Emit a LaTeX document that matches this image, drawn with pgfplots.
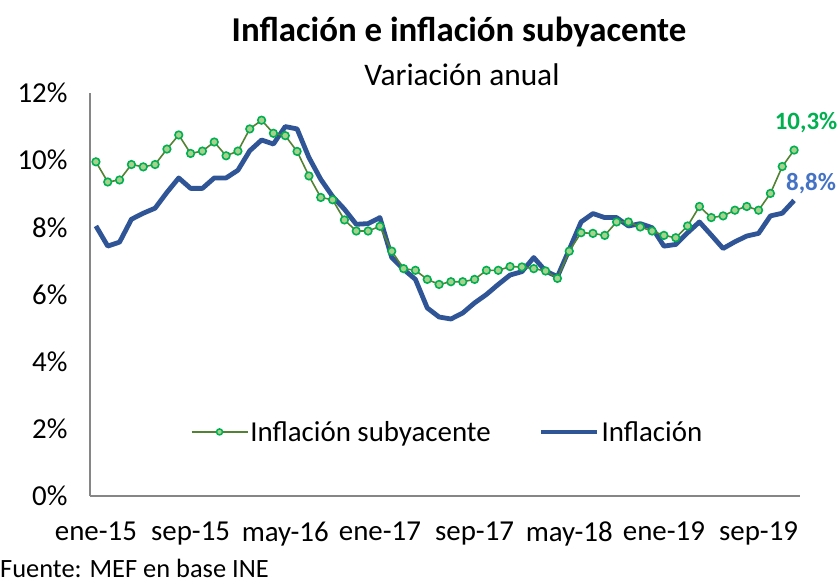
\documentclass[border=0pt]{standalone}
\usepackage{pgfplots}
\pgfplotsset{compat=1.18}
\usepackage{pgfplotstable}
\usepackage{fontspec}
\setmainfont{Carlito}
\definecolor{infblue}{RGB}{47,85,151}
\definecolor{subgreen}{RGB}{84,130,53}
\definecolor{mkgreen}{RGB}{0,176,80}
\definecolor{mkfill}{RGB}{169,209,142}
\definecolor{lblblue}{RGB}{68,114,196}
\definecolor{axgray}{RGB}{134,134,134}

\pgfplotstableread{
x y
0 9.95
1 9.35
2 9.41
3 9.87
4 9.80
5 9.87
6 10.33
7 10.75
8 10.20
9 10.27
10 10.54
11 10.13
12 10.27
13 10.93
14 11.19
15 10.80
16 10.73
17 10.26
18 9.53
19 8.89
20 8.82
21 8.22
22 7.89
23 7.89
24 8.03
25 7.29
26 6.77
27 6.72
28 6.45
29 6.30
30 6.38
31 6.38
32 6.45
33 6.72
34 6.72
35 6.83
36 6.82
37 6.77
38 6.70
39 6.48
40 7.29
41 7.84
42 7.82
43 7.76
44 8.16
45 8.16
46 8.01
47 7.89
48 7.76
49 7.69
50 8.04
51 8.62
52 8.29
53 8.34
54 8.51
55 8.62
56 8.51
57 9.01
58 9.81
59 10.30
}\subyacente

\pgfplotstableread{
x y
0 8.04
1 7.44
2 7.56
3 8.24
4 8.42
5 8.57
6 9.04
7 9.47
8 9.16
9 9.16
10 9.47
11 9.47
12 9.70
13 10.28
14 10.60
15 10.48
16 11.00
17 10.93
18 10.08
19 9.43
20 8.92
21 8.54
22 8.09
23 8.11
24 8.29
25 7.10
26 6.75
27 6.45
28 5.60
29 5.33
30 5.27
31 5.45
32 5.75
33 6.00
34 6.30
35 6.58
36 6.68
37 7.10
38 6.70
39 6.53
40 7.34
41 8.16
42 8.41
43 8.29
44 8.29
45 8.04
46 8.11
47 7.99
48 7.44
49 7.49
50 7.84
51 8.16
52 7.77
53 7.37
54 7.57
55 7.74
56 7.82
57 8.34
58 8.42
59 8.80
}\inflacion

\begin{document}
\begin{tikzpicture}[x=1bp,y=1bp]
\path[use as bounding box] (0,0) rectangle (838,585);
\begin{axis}[
  at={(90bp,89bp)}, anchor=south west,
  scale only axis, width=710bp, height=403bp,
  xmin=-0.5, xmax=59.5, ymin=0, ymax=12,
  axis x line*=bottom, axis y line*=left,
  axis line style={axgray, line width=1.3bp},
  major tick length=0pt,
  xtick={0,8,16,24,32,40,48,56},
  xticklabels={ene-15,sep-15,may-16,ene-17,sep-17,may-18,ene-19,sep-19},
  ytick={0,2,4,6,8,10,12},
  yticklabels={0\%,2\%,4\%,6\%,8\%,10\%,12\%},
  tick label style={font=\fontsize{29}{33}\selectfont, text=black},
  xticklabel style={yshift=-22bp},
  yticklabel style={xshift=-19bp},
  clip=false,
  legend style={at={(0.5035,0.159)}, anchor=center, draw=none, fill=none,
    font=\fontsize{29}{33}\selectfont, legend columns=2,
    /tikz/every even column/.append style={column sep=46bp}},
  legend image code/.code={\draw[mark repeat=2,mark phase=2,#1] plot coordinates {(0bp,0bp) (28bp,0bp) (56bp,0bp)};},
]
\addlegendimage{subgreen, line width=1.6bp, mark=*, mark size=3bp, mark options={draw=mkgreen, fill=mkfill, line width=1.5bp}}
\addlegendentry{Inflación subyacente}
\addlegendimage{infblue, line width=4.8bp}
\addlegendentry{Inflación}
\addplot[forget plot, infblue, line width=4.8bp, line join=round] table[x=x,y=y] {\inflacion};
\addplot[forget plot, subgreen, line width=1.6bp, mark=*, mark size=3.8bp,
  mark options={draw=mkgreen, fill=mkfill, line width=1.6bp}] table[x=x,y=y] {\subyacente};
\node[font=\fontsize{25}{30}\selectfont\bfseries, text=mkgreen] at (axis cs:59,10.3) [xshift=12bp, yshift=27bp] {10,3\%};
\node[font=\fontsize{25}{30}\selectfont\bfseries, text=lblblue] at (axis cs:59,8.8) [xshift=17bp, yshift=17bp] {8,8\%};
\end{axis}
\node[font=\fontsize{35}{40}\selectfont\bfseries, anchor=base] at (459,543) {Inflación e inflación subyacente};
\node[font=\fontsize{31.5}{36}\selectfont, anchor=base] at (462,499) {Variación anual};
\node[font=\fontsize{26.5}{30}\selectfont, anchor=base west, inner sep=0pt] at (0,7) {Fuente: MEF en base INE};
\end{tikzpicture}
\end{document}
